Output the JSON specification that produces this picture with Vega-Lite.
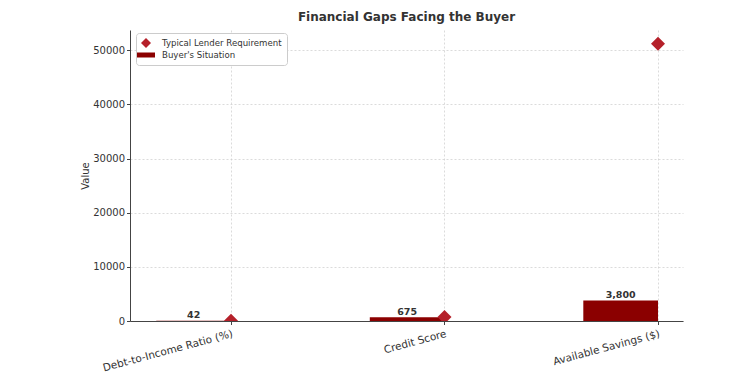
{
  "$schema": "https://vega.github.io/schema/vega-lite/v6.json",
  "width": 553,
  "height": 291,
  "autosize": {"type": "none"},
  "padding": {"left": 130, "top": 30, "right": 67, "bottom": 54},
  "background": "white",
  "title": {"text": "Financial Gaps Facing the Buyer", "fontSize": 12, "fontWeight": "bold", "color": "#333333", "anchor": "middle", "offset": 6, "font": "DejaVu Sans"},
  "config": {
    "font": "DejaVu Sans",
    "view": {"stroke": null},
    "axis": {"gridColor": "#cccccc", "gridDash": [2, 2], "gridWidth": 0.7, "domainColor": "#444444", "tickColor": "#444444", "labelColor": "#333333", "labelFontSize": 10, "titleFontSize": 10, "titleFontWeight": "normal", "titleColor": "#333333", "tickSize": 3.5}
  },
  "data": {"values": [
    {"category": "Debt-to-Income Ratio (%)", "series": "Buyer's Situation", "value": 42},
    {"category": "Credit Score", "series": "Buyer's Situation", "value": 675},
    {"category": "Available Savings ($)", "series": "Buyer's Situation", "value": 3800},
    {"category": "Debt-to-Income Ratio (%)", "series": "Typical Lender Requirement", "value": 36},
    {"category": "Credit Score", "series": "Typical Lender Requirement", "value": 740},
    {"category": "Available Savings ($)", "series": "Typical Lender Requirement", "value": 51200}
  ]},
  "encoding": {
    "x": {"field": "category", "type": "nominal", "sort": null,
      "scale": {"type": "point", "domain": ["Debt-to-Income Ratio (%)", "Credit Score", "Available Savings ($)"], "padding": 0.295, "align": 0.8016},
      "axis": {"title": null, "grid": true, "labelAngle": -15, "labelAlign": "right", "labelBaseline": "top", "labelPadding": 4, "labelFontSize": 10.5}},
    "y": {"field": "value", "type": "quantitative",
      "scale": {"domain": [0, 53760], "nice": false},
      "axis": {"title": "Value", "values": [0, 10000, 20000, 30000, 40000, 50000], "format": "d", "grid": true, "titlePadding": 2}}
  },
  "layer": [
    {
      "transform": [{"filter": "datum.series === \"Buyer's Situation\""}],
      "mark": {"type": "bar", "size": 74.7, "xOffset": -37.35, "color": "#8b0000"},
      "encoding": {}
    },
    {
      "transform": [{"filter": "datum.series === \"Buyer's Situation\""}],
      "mark": {"type": "text", "xOffset": -37.35, "baseline": "alphabetic", "dy": -2.5, "fontSize": 9.5, "fontWeight": "bold", "color": "#333333"},
      "encoding": {"text": {"field": "value", "type": "quantitative", "format": ","}}
    },
    {
      "transform": [{"filter": "datum.series === 'Typical Lender Requirement'"}],
      "mark": {"type": "point", "filled": true, "opacity": 1, "size": 196, "clip": true},
      "encoding": {
        "color": {"field": "series", "type": "nominal",
          "scale": {"domain": ["Typical Lender Requirement", "Buyer's Situation"], "range": ["#b5202a", "#8b0000"]},
          "legend": {"title": null, "orient": "none", "legendX": 6, "legendY": 3, "fillColor": "white", "strokeColor": "#cccccc", "cornerRadius": 3, "padding": 5, "labelFontSize": 8.6, "labelColor": "#333333", "symbolSize": 100, "labelOffset": 11, "rowPadding": 2, "symbolStrokeWidth": 0, "symbolOpacity": 1}},
        "shape": {"field": "series", "type": "nominal",
          "scale": {"domain": ["Typical Lender Requirement", "Buyer's Situation"], "range": ["diamond", "M-1.8,-0.5H1.8V0.5H-1.8Z"]},
          "legend": {"title": null, "orient": "none", "legendX": 6, "legendY": 3, "fillColor": "white", "strokeColor": "#cccccc", "cornerRadius": 3, "padding": 5, "labelFontSize": 8.6, "labelColor": "#333333", "symbolSize": 100, "labelOffset": 11, "rowPadding": 2, "symbolStrokeWidth": 0, "symbolOpacity": 1}}
      }
    }
  ]
}
